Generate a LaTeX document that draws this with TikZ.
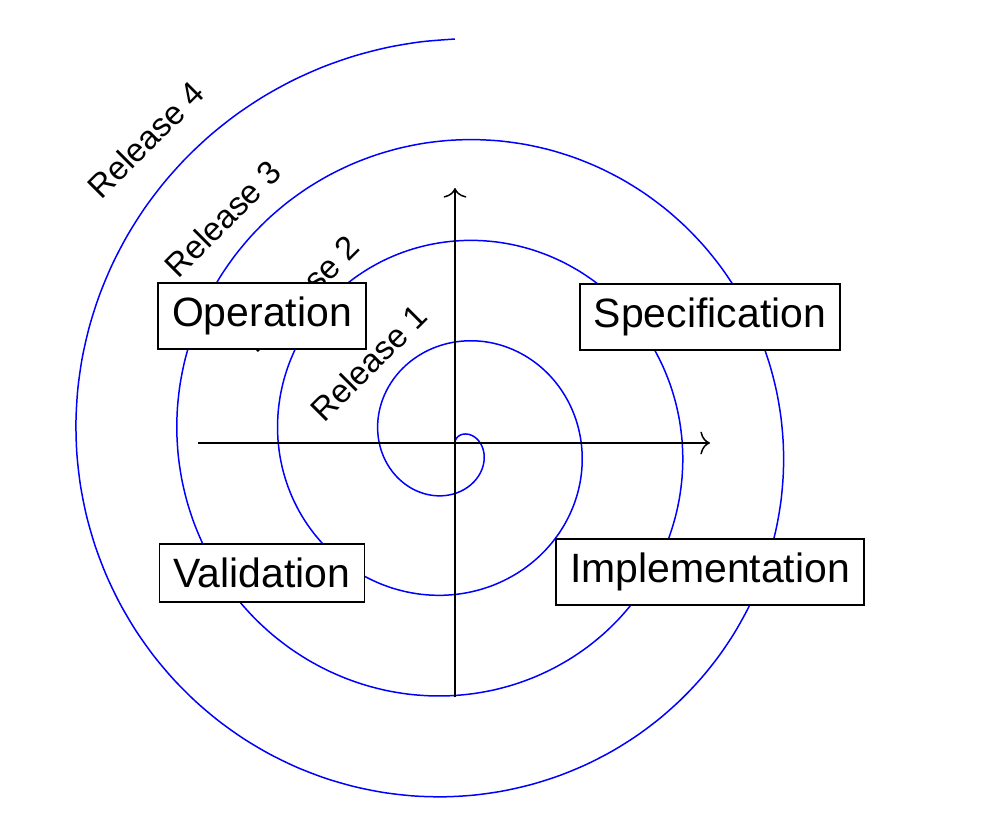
\documentclass[tikz,border=0pt]{standalone}
\usepackage{fontspec}
\setmainfont{Liberation Sans}
\usetikzlibrary{arrows.meta}

\begin{document}
\begin{tikzpicture}[
    box/.style={draw=black,fill=white,line width=0.8pt,
        inner sep=8pt,font=\fontsize{23.3}{28}\selectfont},
    rel/.style={rotate=45,inner sep=0pt,
        font=\fontsize{18.7}{22}\selectfont},
    axis/.style={black,line width=0.85pt},
    >={To[length=5.5pt,width=13pt]},
    ]
    \useasboundingbox (-9.1,-7.4) rectangle (10.52,8.86);
    % spiral, one turn per release
    \draw[blue,line width=0.85pt,domain=0:1440,samples=300,smooth,variable=\t]
        plot ({90-\t}:{2.02*\t/360});
    % axes
    \coordinate (xl) at (-5.14,0);
    \coordinate (xr) at (5.1,0);
    \coordinate (yb) at (0,-5.08);
    \coordinate (yt) at (0,5.1);
    \draw[axis,->] (xl) -- (xr);
    \draw[axis,->] (yb) -- (yt);
    % releases
    \node[rel] (r1) at (-1.72,1.6) {Release 1};
    \node[rel] (r2) at (-3.08,2.98) {Release 2};
    \node[rel] (r3) at (-4.65,4.48) {Release 3};
    \node[rel] (r4) at (-6.18,6.06) {Release 4};
    % phases
    \node[box] (op) at (-3.86,2.54) {Operation};
    \node[box] (spec) at (5.1,2.52) {Specification};
    \node[box] (impl) at (5.1,-2.58) {Implementation};
    \node[box] (val) at (-3.86,-2.6) {Validation};
\end{tikzpicture}
\end{document}
